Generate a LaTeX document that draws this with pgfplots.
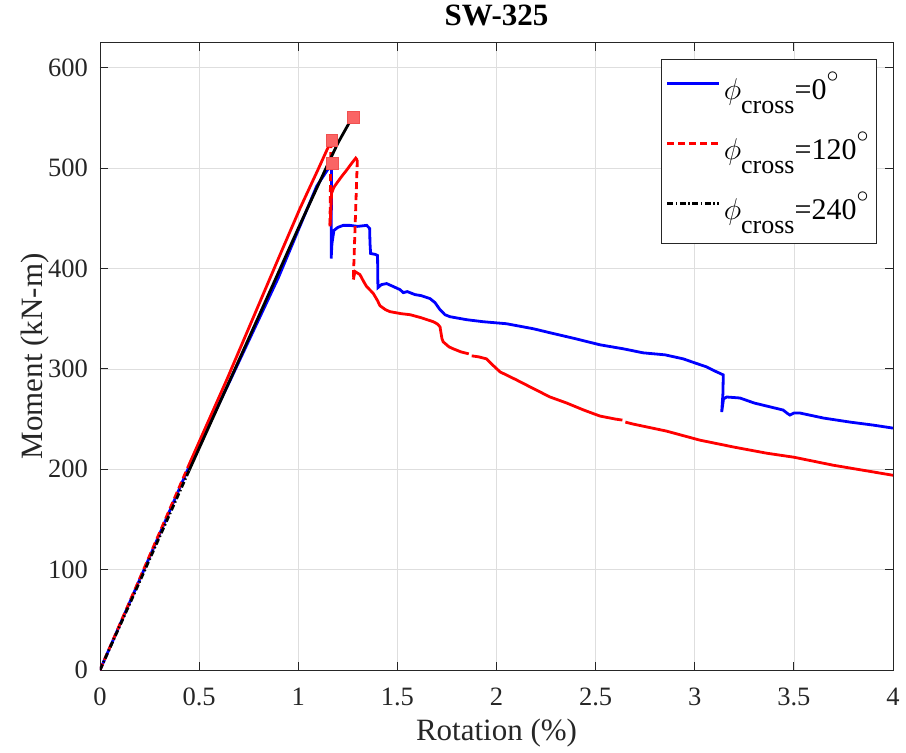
\RequirePackage{fix-cm}
\documentclass[border=0pt]{standalone}
\usepackage{fontspec}
\setmainfont{Liberation Serif}
\usepackage{pgfplots}
\pgfplotsset{compat=1.18}
\definecolor{axgray}{RGB}{38,38,38}
\definecolor{sqfill}{RGB}{250,100,100}
\definecolor{sqdraw}{RGB}{240,80,80}
\newcommand{\phicross}[1]{$\phi$\raisebox{-14pt}{\fontsize{26}{28}\selectfont cross}=#1\raisebox{17pt}{\fontsize{24}{24}\selectfont$\circ$}}
\begin{document}
\begin{tikzpicture}
\path[use as bounding box] (-100pt,-83pt) rectangle (806pt,670pt);
\begin{axis}[
  scale only axis, width=793pt, height=627.3pt,
  xmin=0, xmax=4, ymin=0, ymax=625,
  xtick={0,0.5,...,4}, ytick={0,100,...,600},
  grid=major, major grid style={color=black!13, line width=0.7pt},
  axis line style={color=axgray, line width=0.9pt},
  tick style={color=axgray, line width=0.9pt},
  tick align=inside, major tick length=8pt,
  /pgf/number format/assume math mode=true,
  ticklabel style={font=\fontsize{26.5}{28}\selectfont, text=axgray},
  xticklabel style={anchor=base, yshift=-35pt, inner sep=0pt},
  yticklabel style={anchor=east, xshift=-12pt, inner sep=0pt},
  xlabel={Rotation (\%)}, ylabel={Moment (kN-m)},
  label style={font=\fontsize{31}{34}\selectfont, text=axgray},
  xlabel style={at={(axis description cs:0.5,-0.1116)}, anchor=base},
  ylabel style={at={(axis description cs:-0.0731,0.5)}, anchor=base},
  title={SW-325},
  title style={font=\bfseries\fontsize{31}{34}\selectfont, at={(axis description cs:0.5,1.0171)}, anchor=base},
  unbounded coords=jump,
  legend image code/.code={\draw[#1] (0pt,8pt) -- (52pt,8pt);},
  legend cell align=left,
  legend style={at={(axis description cs:0.9798,0.9735)}, anchor=north east,
    draw=axgray, line width=0.9pt, fill=white,
    font=\fontsize{30}{32}\selectfont, inner xsep=5pt, inner ysep=2pt,
    row sep=0pt,
    nodes={text height=31pt, text depth=16pt, inner ysep=6.5pt, inner xsep=3pt}},
]
% phi = 0 (blue)
\addplot[blue, line width=2.8pt] coordinates {
(0,0) (0.2,90) (0.45,203) (0.66,290) (0.9,391) (1.093,482) (1.16,502) (1.168,504)
(1.167,460) (1.166,410) (1.17,425) (1.18,438) (1.2,441) (1.227,443) (1.26,443) (1.3,442)
(1.345,443) (1.36,440) (1.362,425) (1.365,415) (1.39,414) (1.40,413) (1.402,381)
(1.42,384) (1.446,385) (1.48,382) (1.513,379) (1.53,376) (1.55,377) (1.589,374)
(1.62,373) (1.665,370) (1.69,366) (1.715,359) (1.74,354) (1.765,352) (1.85,349)
(1.933,347) (2.05,345) (2.186,340) (2.27,336) (2.4,330) (2.522,324) (2.64,320)
(2.74,316) (2.85,314) (2.942,310) (3.0,306) (3.06,302) (3.1,298) (3.144,294)
(3.142,275) (3.136,257) (3.145,270) (3.161,272) (3.228,271) (3.3,266) (3.446,259)
(3.465,256) (3.48,254) (3.5,256) (3.531,256) (3.65,251) (3.783,247) (3.9,244) (4.0,241)
};
\addlegendentry{\phicross{0}}
% phi = 120 (red)
\addplot[red, line width=2.8pt, dash pattern=on 7pt off 4pt] coordinates {(0,0) (0.2,91) (0.45,205)};
\addlegendentry{\phicross{120}}
\addplot[red, line width=2.8pt, forget plot] coordinates {
(0.45,205) (0.639,289) (0.9,410) (1.009,460) (1.103,500) (1.165,527)
};
\addplot[red, line width=2.8pt, dash pattern=on 7pt off 4pt, forget plot] coordinates {(1.165,527) (1.16,442)};
\addplot[red, line width=2.8pt, forget plot] coordinates {
(1.16,442) (1.165,460) (1.168,475) (1.18,481) (1.194,485) (1.22,492) (1.244,498) (1.27,505) (1.29,510) (1.298,508)
};
\addplot[red, line width=2.8pt, dash pattern=on 7pt off 4pt, forget plot] coordinates {(1.298,508) (1.278,390)};
\addplot[red, line width=2.8pt, forget plot] coordinates {
(1.278,389) (1.286,397) (1.311,394) (1.33,387) (1.345,382) (1.365,378) (1.379,375)
(1.40,368) (1.412,363) (1.44,359) (1.463,357) (1.52,355) (1.564,354) (1.62,351)
(1.681,347) (1.70,345) (1.715,342) (1.725,330) (1.731,327) (1.76,322) (1.782,320)
(1.82,317) (1.86,315) (1.867,nan) (1.875,313) (1.91,312) (1.95,310) (1.98,304)
(2.018,297) (2.06,293) (2.101,289) (2.18,281) (2.27,272) (2.354,266) (2.44,259)
(2.522,253) (2.6,250) (2.635,249) (2.642,nan) (2.65,247) (2.69,245) (2.858,238)
(3.026,229) (3.2,222) (3.363,216) (3.5,212) (3.699,204) (3.85,199) (4.0,194)
};
% phi = 240 (black)
\addplot[black, line width=2.8pt, dash pattern=on 6pt off 2.5pt on 1.5pt off 2.5pt] coordinates {(0,0) (0.2,88) (0.45,199)};
\addlegendentry{\phicross{240}}
\addplot[black, line width=2.8pt, forget plot] coordinates {
(0.45,199) (0.656,289) (0.9,396) (1.0,440) (1.14,500) (1.2,525) (1.265,548)
};
% peak markers
\addplot[only marks, mark=square*, mark size=5.8pt, mark options={fill=sqfill, draw=sqdraw, line width=0.5pt}, forget plot] coordinates {
(1.276,551) (1.169,528) (1.171,505)
};
\end{axis}
\end{tikzpicture}
\end{document}
